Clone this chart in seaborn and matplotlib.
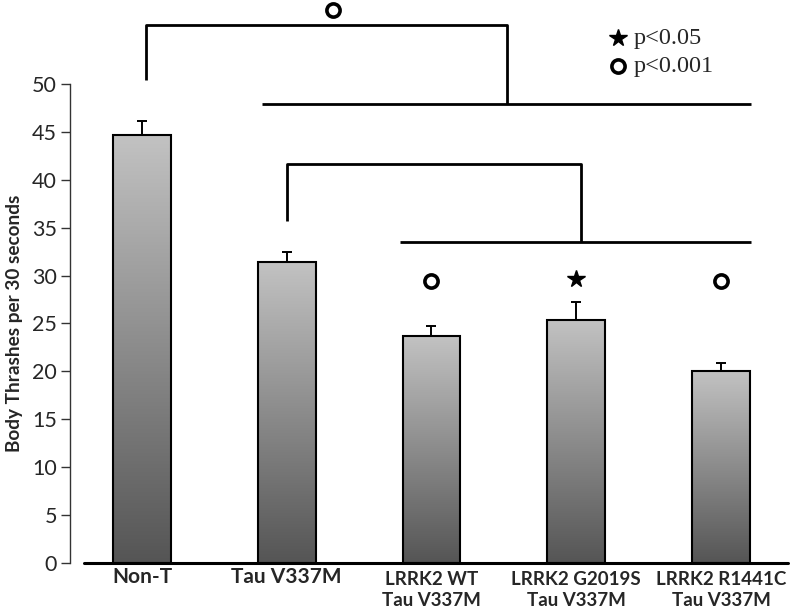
import numpy as np
import pandas as pd
import matplotlib
matplotlib.use("Agg")
import matplotlib.pyplot as plt
import seaborn as sns

# values
groups = ["Non-T", "Tau V337M", "LRRK2 WT\nTau V337M", "LRRK2 G2019S\nTau V337M", "LRRK2 R1441C\nTau V337M"]
means = [44.7, 31.4, 23.7, 25.4, 20.0]
errs = [1.5, 1.1, 1.0, 1.8, 0.9]
yticks = [0, 5, 10, 15, 20, 25, 30, 35, 40, 45, 50]

# significance marks above bars ("o" = p<0.001, "*" = p<0.05)
sig_marks = ["", "", "o", "*", "o"]

sns.set_style("white")
plt.rcParams["font.family"] = ["Lato", "DejaVu Sans"]

df = pd.DataFrame({"group": groups, "mean": means})

fig = plt.figure(figsize=(7.93, 6.12), dpi=100)
ax = fig.add_axes([0.0883, 0.0806, 0.9054, 0.7817])

sns.barplot(data=df, x="group", y="mean", width=0.4, color="#999999",
            edgecolor="black", linewidth=1.5, ax=ax, zorder=2)

# vertical gradient fill inside each bar (light at top, dark at bottom)
grad = np.linspace(0, 1, 256).reshape(-1, 1)
cmap = matplotlib.colors.LinearSegmentedColormap.from_list("g", ["#555555", "#c2c2c2"])
for p in ax.patches:
    x0, y0 = p.get_x(), p.get_y()
    w, h = p.get_width(), p.get_height()
    p.set_facecolor("none")
    im = ax.imshow(grad, cmap=cmap, aspect="auto", origin="lower",
                   extent=[x0, x0 + w, y0, y0 + h], zorder=1.5)
    im.set_clip_path(p)

xs = np.arange(len(groups))
ax.errorbar(xs, means, yerr=[np.zeros(len(errs)), errs], fmt="none",
            ecolor="black", elinewidth=1.4, capsize=3.5, capthick=1.4, zorder=3)

ax.set_xlim(-0.497, 4.463)
ax.set_ylim(0, 50)
ax.set_yticks(yticks)
ax.tick_params(axis="y", direction="out", length=6.5, width=1, color="#333333",
               labelsize=15.5, left=True, pad=3)
ax.tick_params(axis="x", length=0, pad=6)
ax.set_xticks(xs)
ax.set_xticklabels(groups, fontweight="bold", fontsize=13.5, linespacing=1.25)
for lab in ax.get_xticklabels()[:2]:
    lab.set_fontsize(15)
    lab.set_y(0.008)

ax.set_xlabel("")
ax.set_ylabel("Body Thrashes per 30 seconds", fontweight="bold", fontsize=13.7, labelpad=6)

for s in ["top", "right", "bottom"]:
    ax.spines[s].set_visible(False)
ax.spines["left"].set_color("#333333")
ax.spines["left"].set_linewidth(1)

# baseline (starts a little right of the y axis)
ax.plot([-0.4, 4.463], [0, 0], color="black", lw=2.2, clip_on=False, zorder=4)

# comparison brackets
lk = dict(color="black", lw=2, clip_on=False, solid_capstyle="butt")
ax.plot([0.03, 0.03, 2.52, 2.52], [50.4, 56.2, 56.2, 47.9], **lk)
ax.plot([0.83, 4.21], [47.9, 47.9], **lk)
ax.plot([1.0, 1.0, 3.03, 3.03], [35.7, 41.7, 41.7, 33.5], **lk)
ax.plot([1.78, 4.21], [33.5, 33.5], **lk)
ax.plot([1.32], [57.8], marker="o", ms=9.5, mfc="white", mec="black", mew=2.6,
        clip_on=False)

for x, m in zip(xs, sig_marks):
    if m == "o":
        ax.plot([x], [29.4], marker="o", ms=9.5, mfc="white", mec="black", mew=2.6)
    elif m == "*":
        ax.plot([x], [29.6], marker="*", ms=13, color="black")

# legend for the significance symbols
ax.plot([3.29], [54.8], marker="*", ms=13, color="black", clip_on=False)
ax.plot([3.29], [51.9], marker="o", ms=9.5, mfc="white", mec="black", mew=2.6, clip_on=False)
ax.text(3.40, 54.8, "p<0.05", fontsize=17.5, family="Liberation Serif", va="center")
ax.text(3.40, 51.9, "p<0.001", fontsize=17.5, family="Liberation Serif", va="center")

fig.savefig("out.png", dpi=100)
